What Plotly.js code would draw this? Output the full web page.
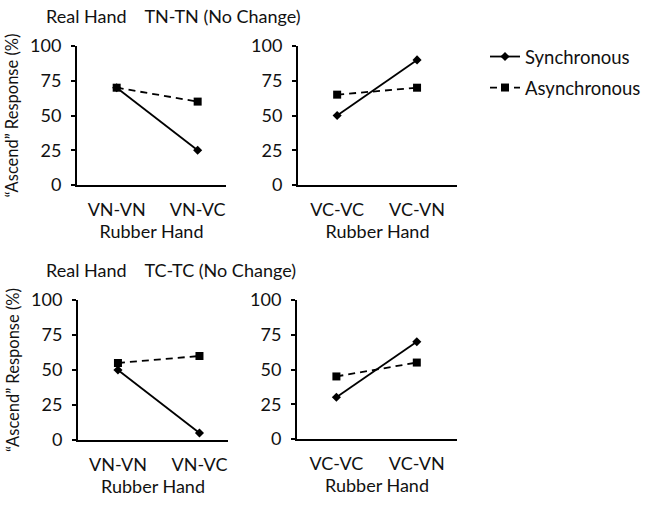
<!DOCTYPE html>
<html>
<head>
<meta charset="utf-8">
<script src="https://cdn.plot.ly/plotly-3.0.1.min.js"></script>
<style>html,body{margin:0;padding:0;background:#fff;}#chart{width:652px;height:505px;}</style>
</head>
<body>
<div id="chart"></div>
<script>
// Data
const catsLeft = ["VN-VN", "VN-VC"];
const catsRight = ["VC-VC", "VC-VN"];
const tnLeftSync = [70, 25];
const tnLeftAsync = [70, 60];
const tnRightSync = [50, 90];
const tnRightAsync = [65, 70];
const tcLeftSync = [50, 5];
const tcLeftAsync = [55, 60];
const tcRightSync = [30, 70];
const tcRightAsync = [45, 55];
const yTicks = [0, 25, 50, 75, 100];
const panelTitles = ["Real Hand\u00a0\u00a0\u00a0\u00a0TN-TN (No Change)", "Real Hand\u00a0\u00a0\u00a0\u00a0TC-TC (No Change)"];
const xTitle = "Rubber Hand";
const yTitle = "\u201cAscend\u201d Response (%)";
const seriesNames = ["Synchronous", "Asynchronous"];

const W = 652, H = 505;
const FONT = "Lato, 'Open Sans', sans-serif";
const fx = p => p / W;
const fy = p => 1 - p / H;

function syncTrace(x, y, xa, ya, show) {
  return {x: x, y: y, xaxis: xa, yaxis: ya, type: "scatter", mode: "lines+markers",
    name: seriesNames[0], showlegend: show, legend: "legend",
    line: {color: "#000", width: 1.8},
    marker: {symbol: "diamond", size: 7, color: "#000"}};
}
function asyncTrace(x, y, xa, ya, show) {
  return {x: x, y: y, xaxis: xa, yaxis: ya, type: "scatter", mode: "lines+markers",
    name: seriesNames[1], showlegend: show, legend: "legend2",
    line: {color: "#000", width: 1.8, dash: "7px,5px"},
    marker: {symbol: "square", size: 8, color: "#000"}};
}

const traces = [
  syncTrace(catsLeft, tnLeftSync, "x", "y", true),
  asyncTrace(catsLeft, tnLeftAsync, "x", "y", true),
  syncTrace(catsRight, tnRightSync, "x2", "y2", false),
  asyncTrace(catsRight, tnRightAsync, "x2", "y2", false),
  syncTrace(catsLeft, tcLeftSync, "x3", "y3", false),
  asyncTrace(catsLeft, tcLeftAsync, "x3", "y3", false),
  syncTrace(catsRight, tcRightSync, "x4", "y4", false),
  asyncTrace(catsRight, tcRightAsync, "x4", "y4", false)
];

const tickFont = {family: FONT, size: 18, color: "#111"};
function xAxis(x0, x1, anchor, standoff, rEnd) {
  return {domain: [fx(x0), fx(x1)], anchor: anchor, type: "category",
    range: [-0.49, rEnd], showline: true, linecolor: "#000", linewidth: 2,
    ticks: "", showgrid: false, zeroline: false, fixedrange: true,
    tickfont: tickFont, ticklabelstandoff: 7,
    title: {text: xTitle, font: {family: FONT, size: 18, color: "#111"}, standoff: standoff}};
}
function yAxis(y0, y1, anchor, withTitle) {
  return {domain: [fy(y1), fy(y0)], anchor: anchor, range: [0, 100],
    tickvals: yTicks, ticktext: yTicks.map(String),
    showline: true, linecolor: "#000", linewidth: 2,
    ticks: "outside", ticklen: 4, tickwidth: 2, tickcolor: "#000",
    showgrid: false, zeroline: false, fixedrange: true,
    tickfont: tickFont, ticklabelstandoff: 6,
    title: withTitle ? {text: yTitle, font: {family: FONT, size: 16.5, color: "#111"}, standoff: 7} : {text: ""}};
}

const layout = {
  width: W, height: H,
  margin: {l: 0, r: 0, t: 0, b: 0},
  paper_bgcolor: "#fff", plot_bgcolor: "#fff",
  font: {family: FONT, color: "#111"},
  xaxis: xAxis(77, 226, "y", 0, 1.35),
  yaxis: yAxis(46, 185, "x", true),
  xaxis2: xAxis(298, 457, "y2", 0, 1.5),
  yaxis2: yAxis(46, 185, "x2", false),
  xaxis3: xAxis(78, 228, "y3", 6, 1.35),
  yaxis3: yAxis(300, 440, "x3", true),
  xaxis4: xAxis(297, 457, "y4", 6, 1.5),
  yaxis4: yAxis(300, 439, "x4", false),
  legend: {x: fx(485), y: fy(57), yanchor: "middle", xanchor: "left",
    font: {family: FONT, size: 18.5, color: "#111"}, bgcolor: "rgba(0,0,0,0)", itemwidth: 30},
  legend2: {x: fx(485), y: fy(88), yanchor: "middle", xanchor: "left",
    font: {family: FONT, size: 18.5, color: "#111"}, bgcolor: "rgba(0,0,0,0)", itemwidth: 30},
  annotations: [
    {text: panelTitles[0], xref: "paper", yref: "paper", x: fx(44), y: fy(16),
      xanchor: "left", yanchor: "middle", showarrow: false,
      font: {family: FONT, size: 18, color: "#111"}},
    {text: panelTitles[1], xref: "paper", yref: "paper", x: fx(44), y: fy(270),
      xanchor: "left", yanchor: "middle", showarrow: false,
      font: {family: FONT, size: 18, color: "#111"}}
  ]
};

Plotly.newPlot("chart", traces, layout, {displayModeBar: false, staticPlot: true});
</script>
</body>
</html>
